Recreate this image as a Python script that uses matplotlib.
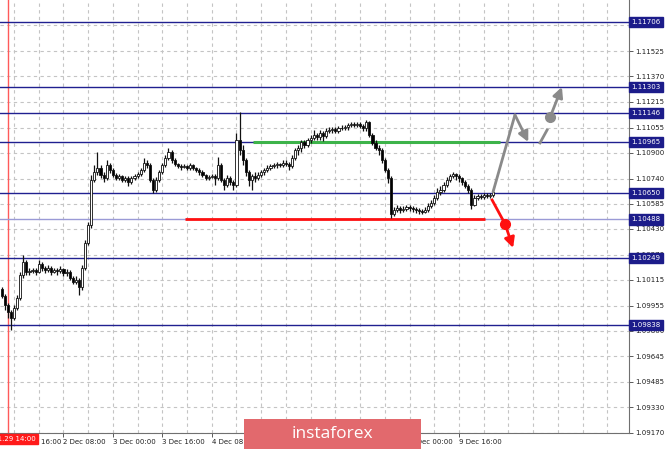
import matplotlib
matplotlib.use("Agg")
import matplotlib.pyplot as plt
from matplotlib.patches import Rectangle

# EURUSD H1 candles, bar 0 = 29 Nov 14:00 (first bar drawn is bar -2)
first_bar = -2
first_open = 1.10059
close = [1.10016, 1.09960, 1.09917, 1.09880, 1.09942, 1.10003, 1.10145, 1.10226, 1.10164, 1.10170,
         1.10176, 1.10164, 1.10213, 1.10188, 1.10176, 1.10188, 1.10164, 1.10176, 1.10170, 1.10182,
         1.10158, 1.10164, 1.10127, 1.10102, 1.10114, 1.10071, 1.10188, 1.10343, 1.10454, 1.10731,
         1.10781, 1.10805, 1.10762, 1.10744, 1.10824, 1.10793, 1.10762, 1.10744, 1.10756, 1.10731,
         1.10744, 1.10719, 1.10744, 1.10756, 1.10768, 1.10793, 1.10836, 1.10824, 1.10731, 1.10670,
         1.10731, 1.10781, 1.10824, 1.10867, 1.10904, 1.10855, 1.10830, 1.10818, 1.10812, 1.10818,
         1.10805, 1.10824, 1.10805, 1.10793, 1.10781, 1.10762, 1.10744, 1.10750, 1.10756, 1.10744,
         1.10824, 1.10731, 1.10701, 1.10744, 1.10719, 1.10701, 1.10978, 1.10917, 1.10855, 1.10781,
         1.10731, 1.10756, 1.10744, 1.10762, 1.10781, 1.10793, 1.10805, 1.10818, 1.10824, 1.10830,
         1.10824, 1.10836, 1.10830, 1.10818, 1.10867, 1.10917, 1.10929, 1.10966, 1.10947, 1.10978,
         1.10991, 1.11009, 1.10997, 1.11021, 1.11003, 1.11034, 1.11040, 1.11046, 1.11034, 1.11052,
         1.11052, 1.11058, 1.11071, 1.11077, 1.11071, 1.11077, 1.11065, 1.11052, 1.11089, 1.11009,
         1.10960, 1.10929, 1.10917, 1.10855, 1.10793, 1.10744, 1.10522, 1.10546, 1.10559, 1.10546,
         1.10553, 1.10565, 1.10559, 1.10553, 1.10546, 1.10540, 1.10534, 1.10546, 1.10571, 1.10590,
         1.10620, 1.10657, 1.10670, 1.10701, 1.10731, 1.10756, 1.10768, 1.10756, 1.10744, 1.10719,
         1.10694, 1.10670, 1.10577, 1.10620, 1.10633, 1.10627, 1.10639, 1.10633, 1.10639, 1.10657]
high = [1.10071, 1.10028, 1.09973, 1.09929, 1.09960, 1.10022, 1.10164, 1.10269, 1.10238, 1.10188,
        1.10188, 1.10188, 1.10238, 1.10226, 1.10201, 1.10207, 1.10201, 1.10188, 1.10188, 1.10201,
        1.10188, 1.10182, 1.10176, 1.10139, 1.10139, 1.10127, 1.10207, 1.10361, 1.10472, 1.10762,
        1.10824, 1.10904, 1.10824, 1.10781, 1.10855, 1.10836, 1.10805, 1.10775, 1.10768, 1.10762,
        1.10756, 1.10756, 1.10756, 1.10768, 1.10781, 1.10805, 1.10867, 1.10855, 1.10836, 1.10744,
        1.10750, 1.10793, 1.10836, 1.10886, 1.10929, 1.10917, 1.10867, 1.10836, 1.10830, 1.10830,
        1.10824, 1.10836, 1.10830, 1.10812, 1.10805, 1.10793, 1.10768, 1.10762, 1.10768, 1.10768,
        1.10873, 1.10836, 1.10744, 1.10762, 1.10756, 1.10731, 1.11021, 1.11151, 1.10947, 1.10867,
        1.10793, 1.10768, 1.10781, 1.10781, 1.10793, 1.10805, 1.10824, 1.10830, 1.10836, 1.10843,
        1.10836, 1.10855, 1.10855, 1.10843, 1.10886, 1.10929, 1.10947, 1.10978, 1.10978, 1.10991,
        1.11009, 1.11040, 1.11021, 1.11040, 1.11034, 1.11052, 1.11058, 1.11058, 1.11058, 1.11065,
        1.11071, 1.11071, 1.11083, 1.11089, 1.11089, 1.11089, 1.11089, 1.11077, 1.11102, 1.11095,
        1.11021, 1.10978, 1.10947, 1.10929, 1.10867, 1.10805, 1.10756, 1.10565, 1.10577, 1.10571,
        1.10571, 1.10577, 1.10577, 1.10571, 1.10565, 1.10559, 1.10553, 1.10565, 1.10590, 1.10608,
        1.10639, 1.10682, 1.10694, 1.10719, 1.10750, 1.10768, 1.10781, 1.10775, 1.10768, 1.10750,
        1.10731, 1.10707, 1.10682, 1.10639, 1.10645, 1.10645, 1.10651, 1.10651, 1.10651, 1.10676]
low = [1.10003, 1.09929, 1.09880, 1.09806, 1.09868, 1.09929, 1.09991, 1.10127, 1.10145, 1.10145,
       1.10158, 1.10145, 1.10158, 1.10170, 1.10158, 1.10164, 1.10145, 1.10158, 1.10145, 1.10158,
       1.10139, 1.10139, 1.10114, 1.10090, 1.10090, 1.10022, 1.10053, 1.10176, 1.10330, 1.10435,
       1.10719, 1.10762, 1.10744, 1.10719, 1.10731, 1.10775, 1.10750, 1.10731, 1.10731, 1.10719,
       1.10719, 1.10694, 1.10707, 1.10731, 1.10744, 1.10756, 1.10781, 1.10805, 1.10719, 1.10651,
       1.10657, 1.10719, 1.10768, 1.10812, 1.10855, 1.10836, 1.10818, 1.10805, 1.10793, 1.10805,
       1.10793, 1.10793, 1.10793, 1.10781, 1.10762, 1.10750, 1.10731, 1.10731, 1.10744, 1.10701,
       1.10731, 1.10719, 1.10670, 1.10688, 1.10701, 1.10670, 1.10688, 1.10886, 1.10824, 1.10756,
       1.10694, 1.10670, 1.10719, 1.10731, 1.10750, 1.10762, 1.10781, 1.10793, 1.10805, 1.10805,
       1.10812, 1.10812, 1.10818, 1.10793, 1.10805, 1.10855, 1.10886, 1.10904, 1.10929, 1.10935,
       1.10960, 1.10978, 1.10978, 1.10978, 1.10972, 1.10991, 1.11021, 1.11021, 1.11021, 1.11021,
       1.11040, 1.11040, 1.11040, 1.11058, 1.11058, 1.11058, 1.11052, 1.11034, 1.11034, 1.10997,
       1.10947, 1.10917, 1.10886, 1.10836, 1.10781, 1.10713, 1.10497, 1.10509, 1.10534, 1.10528,
       1.10534, 1.10540, 1.10540, 1.10534, 1.10528, 1.10522, 1.10522, 1.10528, 1.10534, 1.10559,
       1.10577, 1.10608, 1.10639, 1.10657, 1.10688, 1.10719, 1.10744, 1.10731, 1.10719, 1.10701,
       1.10682, 1.10651, 1.10553, 1.10571, 1.10608, 1.10614, 1.10614, 1.10620, 1.10620, 1.10627]

# support / resistance levels with their price tags
levels = [1.11706, 1.11303, 1.11146, 1.10965, 1.10650, 1.10488, 1.10249, 1.09838]
level_labels = ['1.11706', '1.11303', '1.11146', '1.10965', '1.10650', '1.10488', '1.10249', '1.09838']

y_ticks = [1.09170, 1.09330, 1.09485, 1.09645, 1.09800, 1.09955, 1.10115, 1.10270, 1.10430,
           1.10585, 1.10740, 1.10900, 1.11055, 1.11215, 1.11370, 1.11525, 1.11685]
x_ticks = [2, 18, 34, 50, 66, 82, 98, 114, 130, 146]
x_labels = ['29 Nov 16:00', '2 Dec 08:00', '3 Dec 00:00', '3 Dec 16:00', '4 Dec 08:00',
            '5 Dec 00:00', '5 Dec 16:00', '6 Dec 08:00', '9 Dec 00:00', '9 Dec 16:00']

# green resistance / red support segments
green_x = [79.4, 159.3]
green_y = 1.10965
red_x = [57.4, 154.4]
red_y = 1.10488

# forecast paths
up_x = [157, 164.1, 168.4]
up_y = [1.10657, 1.11133, 1.10966]
dash_x = [172.2, 174.5]
dash_y = [1.10960, 1.11040]
up2_x = [175.5, 179.3]
up2_y = [1.11120, 1.11305]
down_x = [156.7, 160.9, 163.5]
down_y = [1.10608, 1.10460, 1.10312]

W, H = 665, 451
fig = plt.figure(figsize=(W / 100, H / 100), dpi=100)
ax = fig.add_axes([0, 18 / H, 629 / W, 433 / H])
ax.set_xlim(-2.52, 201.0)
ax.set_ylim(1.09170, 1.11842)

# grid
for gx in range(2, 200, 8):
    ax.axvline(gx, color='#c4c4c4', lw=0.8, ls=(0, (3, 3)), zorder=0)
for gy in y_ticks:
    ax.axhline(gy, color='#c4c4c4', lw=0.8, ls=(0, (3, 3)), zorder=0)

# vertical red marker line
ax.axvline(0, color='#ff5a5a', lw=1.0, zorder=1)

# levels
for lv in levels:
    c = '#9a9ad6' if lv == 1.10488 else '#202090'
    ax.axhline(lv, color=c, lw=1.0, zorder=1)

# candles
opens = [first_open] + close[:-1]
for k in range(len(close)):
    i = first_bar + k
    o, c = opens[k], close[k]
    ax.vlines(i, low[k], high[k], color='#111111', lw=0.9, zorder=3)
    bottom = min(o, c)
    height = max(abs(c - o), 0.000008)
    face = 'white' if c >= o else 'black'
    ax.bar(i, height, bottom=bottom, width=0.7, color=face, edgecolor='#111111', lw=0.6, zorder=4)

ax.hlines(green_y, green_x[0], green_x[1], color='#3db34a', lw=2.2, zorder=2)
ax.hlines(red_y, red_x[0], red_x[1], color='#ff1010', lw=2.0, zorder=2)

# forecast arrows
gray = '#8a8a8a'
ax.plot(up_x[:2], up_y[:2], color=gray, lw=2, zorder=5, solid_capstyle='round')
ax.annotate('', xy=(up_x[2], up_y[2]), xytext=(up_x[1], up_y[1]),
            arrowprops=dict(arrowstyle='-|>', color=gray, lw=2, mutation_scale=15, shrinkA=0, shrinkB=0), zorder=5)
ax.plot(dash_x, dash_y, color=gray, lw=2, zorder=5)
ax.plot(up2_x[0], up2_y[0], 'o', color=gray, ms=7, zorder=6)
ax.annotate('', xy=(up2_x[1], up2_y[1]), xytext=(up2_x[0], up2_y[0]),
            arrowprops=dict(arrowstyle='-|>', color=gray, lw=2, mutation_scale=15, shrinkA=0, shrinkB=0), zorder=5)

red = '#ff1010'
ax.plot(down_x[:2], down_y[:2], color=red, lw=2, zorder=5)
ax.plot(down_x[1], down_y[1], 'o', color=red, ms=7, zorder=6)
ax.annotate('', xy=(down_x[2], down_y[2]), xytext=(down_x[1], down_y[1]),
            arrowprops=dict(arrowstyle='-|>', color=red, lw=2, mutation_scale=15, shrinkA=0, shrinkB=0), zorder=5)

# axes styling
for s in ['top', 'left']:
    ax.spines[s].set_visible(False)
ax.spines['right'].set_color('#707070')
ax.spines['bottom'].set_color('#707070')
ax.yaxis.tick_right()
ax.set_yticks(y_ticks)
ax.set_yticklabels(['%.5f' % v for v in y_ticks])
ax.set_xticks(x_ticks)
ax.set_xticklabels(x_labels, ha='left')
ax.tick_params(axis='both', labelsize=5, length=3, width=0.6, color='#404040', pad=1.5, labelcolor='#202020')

for lv, lab in zip(levels, level_labels):
    ax.text(1.004, lv, lab, transform=ax.get_yaxis_transform(), fontsize=5, color='white',
            va='center', ha='left', clip_on=False, zorder=10,
            bbox=dict(boxstyle='square,pad=0.3', fc='#1c1c8a', ec='#1c1c8a'))

# red time tag for the vertical line (left part runs off the picture)
fig.text(36 / W, 1 - 439 / H, '2019.11.29 14:00', fontsize=5, color='white', va='center', ha='right',
         zorder=10, bbox=dict(boxstyle='square,pad=0.3', fc='#ff1a1a', ec='#ff1a1a'))

# watermark banner
fig.patches.append(Rectangle((244 / W, 2 / H), 177 / W, 30 / H, transform=fig.transFigure,
                             fc='#e2696d', ec='none', zorder=20))
fig.text(332 / W, 1 - 434 / H, 'instaforex', fontsize=12.5, color='white', family='Open Sans',
         va='center', ha='center', zorder=21)

fig.savefig('out.png', dpi=100)
